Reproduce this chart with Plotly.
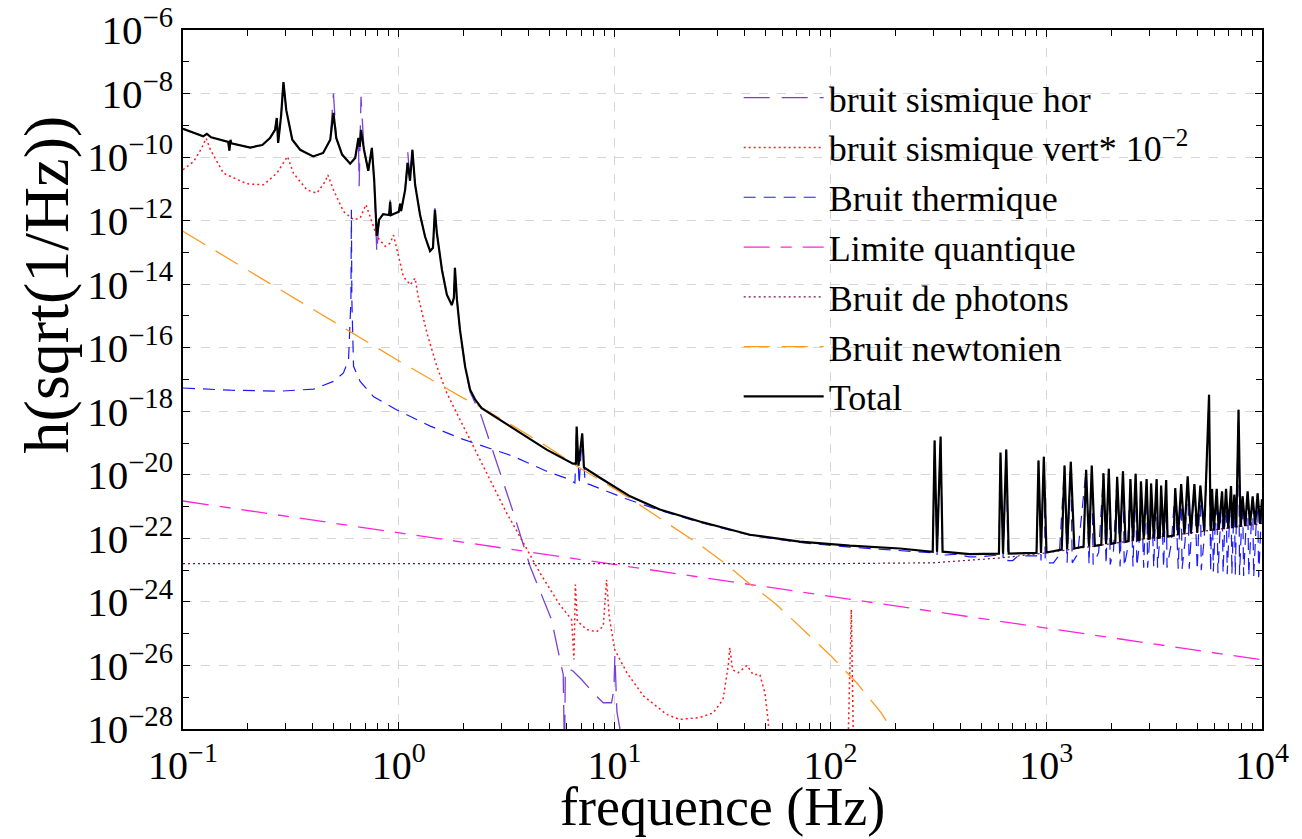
import plotly.graph_objects as go

# ---------------- data (frequency in Hz, amplitude in 1/sqrt(Hz)) ----------------
f_total = [0.1, 0.114, 0.124, 0.129, 0.135, 0.162, 0.164, 0.166, 0.1675, 0.205, 0.233, 0.253, 0.267,
           0.272, 0.276, 0.285, 0.292, 0.301, 0.321, 0.349, 0.401, 0.446, 0.481, 0.498, 0.513, 0.546,
           0.595, 0.628, 0.650, 0.659, 0.668, 0.690, 0.722, 0.750, 0.769, 0.791, 0.811, 0.846, 0.902,
           0.912, 0.921, 1.0, 1.014, 1.025, 1.07, 1.10, 1.127, 1.156, 1.19, 1.255, 1.324, 1.396, 1.44,
           1.47, 1.50, 1.585, 1.67, 1.76, 1.80, 1.82, 1.86, 1.92, 2.03, 2.14, 2.26, 2.42, 3.38, 4.84,
           6.41, 6.62, 6.67, 6.80, 7.08, 7.21, 8.55, 11.8, 16.2, 24.8, 42.4, 72.1, 123, 210, 298, 304,
           312, 324, 331, 442, 604, 614, 631, 653, 670, 902, 921, 946, 975, 1003,
           1180, 1216, 1250, 1300, 1350, 1490, 1531, 1580, 1626, 1680, 1800, 1842, 1895, 1950, 2000,
           2090, 2132, 2200, 2268, 2330, 2410, 2456, 2525, 2596, 2660, 2710, 2748, 2830, 2919, 2980,
           3020, 3062, 3150, 3248, 3300, 3360, 3408, 3500, 3597, 3650, 3900, 3961, 4090, 4222, 4370,
           4525, 4680, 4862, 5010, 5181, 5400, 5684, 5780, 5870, 5980, 6166, 6300, 6531, 6650, 6813,
           6980, 7183, 7300, 7443, 7600, 7785, 7950, 8131, 8350, 8578, 8800, 9050, 9300, 9541, 9800,
           10000]
h_total = [7.8e-10, 5.7e-10, 4.5e-10, 5.4e-10, 4.2e-10, 3.0e-10, 1.6e-10, 3.5e-10, 2.7e-10, 2.0e-10,
           2.4e-10, 4.0e-10, 7.2e-10, 1.7e-9, 2.8e-10, 2.1e-9, 2.3e-8, 3.0e-9, 3.5e-10, 1.7e-10,
           1.05e-10, 1.35e-10, 3.5e-10, 2.45e-9, 4.0e-10, 1.2e-10, 6.2e-11, 9.4e-11, 4.0e-10, 2.1e-10,
           7.2e-10, 1.7e-10, 3.7e-11, 1.95e-10, 1.9e-11, 3.3e-13, 1.07e-12, 1.6e-12, 1.5e-12, 3.9e-12,
           1.5e-12, 1.9e-12, 3.4e-12, 2.0e-12, 9.3e-12, 6.6e-11, 1.8e-11, 1.7e-10, 1.35e-11, 1.5e-12,
           3.1e-13, 1.1e-13, 1.4e-13, 2.2e-12, 4.2e-13, 2.8e-14, 4.7e-15, 2.2e-15, 3.7e-15, 3.3e-14,
           3.2e-15, 3.7e-16, 2.5e-17, 4.8e-18, 2.3e-18, 1.26e-18, 3.0e-19, 6.2e-20, 2.24e-20, 2.24e-20,
           3.3e-19, 1.95e-20, 2.0e-19, 1.7e-20, 8.1e-21, 2.1e-21, 8.1e-22, 3.4e-22, 1.3e-22, 7.9e-23,
           5.9e-23, 4.8e-23, 3.8e-23, 1.2e-19, 3.8e-23, 1.6e-19, 3.8e-23, 3.2e-23, 3.3e-23, 5.0e-20,
           3.3e-23, 6.2e-20, 3.3e-23, 3.5e-23, 2.8e-20, 3.5e-23, 3.7e-20, 3.6e-23,
           4.4e-23, 1.95e-20, 4.6e-23, 2.57e-20, 4.8e-23, 5.5e-23, 1.45e-20, 5.6e-23, 1.95e-20, 5.8e-23,
           6.3e-23, 1.12e-20, 6.5e-23, 1.55e-20, 6.7e-23, 7.2e-23, 8.7e-21, 7.5e-23, 1.29e-20, 7.8e-23,
           8.2e-23, 7.4e-21, 8.5e-23, 1.07e-20, 8.8e-23, 9.0e-23, 6.2e-21, 9.3e-23, 7.4e-21, 9.6e-23,
           9.8e-23, 5.3e-21, 1.0e-22, 7.4e-21, 1.03e-22, 1.06e-22, 4.6e-21, 1.1e-22, 6.8e-21, 1.13e-22,
           1.22e-22, 3.8e-21, 1.26e-22, 5.1e-21, 1.33e-22, 8.9e-21, 1.42e-22, 5.1e-21, 1.5e-22, 4.6e-21,
           1.65e-22, 3.3e-18, 1.7e-22, 3.6e-21, 1.75e-22, 3.6e-21, 1.85e-22, 3.0e-21, 1.95e-22, 3.6e-21,
           2.0e-22, 4.4e-21, 2.1e-22, 2.4e-21, 2.2e-22, 1.12e-18, 2.3e-22, 2.1e-21, 2.4e-22, 3.0e-21,
           2.55e-22, 2.1e-21, 2.7e-22, 2.6e-21, 2.85e-22, 1.7e-21]

f_hor = [0.1, 0.114, 0.124, 0.129, 0.135, 0.162, 0.164, 0.166, 0.1675, 0.205, 0.233, 0.253, 0.267,
         0.272, 0.276, 0.285, 0.292, 0.301, 0.321, 0.349, 0.401, 0.446, 0.481, 0.498, 0.513, 0.546,
         0.595, 0.628, 0.650, 0.655, 0.668, 0.690, 0.722, 0.750, 0.769, 0.791, 0.811, 0.846, 0.902,
         0.912, 0.921, 1.0, 1.014, 1.025, 1.07, 1.10, 1.127, 1.156, 1.19, 1.255, 1.324, 1.396, 1.44,
         1.47, 1.50, 1.585, 1.67, 1.76, 1.80, 1.82, 1.86, 1.92, 2.03, 2.14, 2.26, 2.33, 2.65, 3.40,
         4.06, 4.67, 5.10, 5.58, 5.78, 5.86, 5.91, 6.08, 6.43, 7.03, 8.10, 8.86, 9.68, 9.93, 10.03,
         10.16, 10.25, 10.8]
h_hor = [7.8e-10, 5.7e-10, 4.5e-10, 5.4e-10, 4.2e-10, 3.0e-10, 1.6e-10, 3.5e-10, 2.7e-10, 2.0e-10,
         2.4e-10, 4.0e-10, 7.2e-10, 1.7e-9, 2.8e-10, 2.1e-9, 2.7e-8, 3.0e-9, 3.5e-10, 1.7e-10,
         1.05e-10, 1.35e-10, 3.5e-10, 1.0e-8, 4.0e-10, 1.2e-10, 6.2e-11, 9.4e-11, 4.0e-10, 1.2e-11,
         7.9e-9, 1.7e-10, 3.7e-11, 1.95e-10, 1.9e-11, 9.8e-14, 1.07e-12, 1.6e-12, 1.5e-12, 4.5e-12,
         1.5e-12, 1.9e-12, 3.4e-12, 2.0e-12, 9.3e-12, 1.5e-10, 1.8e-11, 1.7e-10, 1.35e-11, 1.5e-12,
         3.1e-13, 1.1e-13, 1.4e-13, 2.5e-12, 4.2e-13, 2.8e-14, 4.7e-15, 2.2e-15, 3.7e-15, 3.3e-14,
         3.2e-15, 3.7e-16, 2.5e-17, 4.0e-18, 1.8e-18, 1.4e-18, 1.0e-19, 6.3e-22, 1.3e-23, 1.2e-24,
         2.8e-25, 1.55e-26, 5.2e-27, 1e-29, 6.0e-27, 8.1e-27, 6.6e-27, 3.6e-27, 1.2e-27, 6.7e-28,
         6.7e-28, 1.8e-27, 2.2e-26, 1.8e-27, 3.5e-28, 4.7e-29]

f_vert = [0.1, 0.112, 0.122, 0.128, 0.134, 0.154, 0.198, 0.236, 0.272, 0.298, 0.305, 0.325, 0.375,
          0.417, 0.456, 0.469, 0.498, 0.554, 0.617, 0.662, 0.704, 0.736, 0.791, 0.865, 0.912, 0.945,
          1.0, 1.05, 1.13, 1.19, 1.23, 1.32, 1.35, 1.50, 1.67, 1.92, 2.21, 2.65, 3.16, 3.78, 4.51,
          5.58, 6.32, 6.48, 6.58, 6.72, 7.42, 8.26, 8.86, 9.18, 9.44, 10.0, 11.4, 13.6, 17.4, 20.0,
          24.8, 28.6, 31.8, 33.6, 34.2, 35.2, 37.3, 41.1, 43.8, 47.1, 49.7, 51.4, 53.1, 120.2, 125,
          128.2]
h_vert = [4.0e-11, 7.2e-11, 1.9e-10, 3.9e-10, 1.7e-10, 3.1e-11, 1.44e-11, 1.34e-11, 3.1e-11, 8.1e-11,
          1.05e-10, 3.1e-11, 9.3e-12, 7.3e-12, 1.7e-11, 2.75e-11, 9.3e-12, 1.95e-12, 1.07e-12, 1.2e-12,
          3.2e-12, 1.35e-12, 3.2e-13, 1.55e-13, 1.95e-13, 3.5e-13, 7.4e-14, 1.74e-14, 9.5e-15, 1.55e-14,
          4.1e-15, 4.7e-16, 2.9e-16, 2.6e-17, 3.7e-18, 5.5e-19, 7.9e-20, 7.1e-21, 6.3e-22, 7.2e-23,
          8.1e-24, 8.0e-25, 2.8e-25, 1.55e-26, 3.5e-24, 2.5e-25, 1.35e-25, 1.15e-25, 1.7e-25, 5.0e-24,
          3.5e-25, 3.2e-26, 5.9e-27, 1.1e-27, 2.9e-28, 2.0e-28, 2.3e-28, 3.2e-28, 8.5e-28, 9.6e-27,
          3.6e-26, 7.4e-27, 5.9e-27, 1.0e-26, 5.2e-27, 5.2e-27, 1.4e-27, 2.0e-28, 1e-29, 1e-29,
          5.7e-25, 1e-29]

f_therm = [0.1, 0.166, 0.282, 0.403, 0.498, 0.554, 0.585, 0.600, 0.603, 0.606, 0.617, 0.662, 0.762,
           0.98, 1.40, 1.99, 3.40, 4.84, 6.10, 6.55, 6.67, 6.85, 7.08, 7.3, 7.69, 11.2, 16.2, 24.8,
           42.4, 72.1, 123, 210, 298, 304, 312, 324, 331, 345, 380, 440, 480, 604, 614, 631, 653, 665,
           700, 740, 902, 921, 946, 975, 990, 1080, 1150, 1216, 1250, 1300, 1320, 1400, 1531, 1580,
           1626, 1650, 1750, 1842, 1895, 1950, 1980, 2050, 2132, 2200, 2268, 2300, 2380, 2456, 2525,
           2596, 2630, 2690, 2748, 2830, 2919, 2950, 3000, 3062, 3150, 3248, 3280, 3340, 3408, 3500,
           3597, 3630, 3800, 3961, 4090, 4222, 4260, 4400, 4525, 4600, 4700, 4862, 5010, 5181, 5230,
           5400, 5684, 5780, 5870, 5950, 6166, 6250, 6531, 6600, 6813, 6900, 7183, 7250, 7443, 7520,
           7785, 7870, 8131, 8220, 8578, 8680, 9050, 9150, 9541, 9650, 10000]
h_therm = [5.4e-18, 4.6e-18, 4.3e-18, 5.0e-18, 8.7e-18, 1.6e-17, 4.2e-17, 3.2e-15, 2.2e-12, 3.2e-15,
           2.6e-17, 8.7e-18, 2.9e-18, 1.1e-18, 3.4e-19, 1.3e-19, 3.8e-20, 1.3e-20, 7.4e-21, 5.5e-21,
           3.3e-19, 5.0e-21, 2.0e-19, 5.5e-21, 4.9e-21, 1.8e-21, 7.6e-22, 3.2e-22, 1.26e-22, 7.4e-23,
           5.3e-23, 4.1e-23, 3.5e-23, 1.2e-19, 3.0e-23, 1.6e-19, 3.0e-23, 3.0e-23, 3.2e-23, 2.6e-23,
           2.6e-23, 3.0e-23, 5.0e-20, 2.5e-23, 6.2e-20, 2.0e-23, 2.0e-23, 2.8e-23, 2.8e-23, 2.8e-20,
           2.0e-23, 3.7e-20, 1.7e-23, 1.7e-23, 3.0e-23, 1.95e-20, 1.7e-23, 2.57e-20, 1.7e-23, 3.2e-23,
           1.45e-20, 1.5e-23, 1.95e-20, 1.5e-23, 3.6e-23, 1.12e-20, 1.5e-23, 1.55e-20, 1.5e-23, 4.0e-23,
           8.7e-21, 1.3e-23, 1.29e-20, 1.3e-23, 4.5e-23, 7.4e-21, 1.3e-23, 1.07e-20, 1.3e-23, 5.0e-23,
           6.2e-21, 1.2e-23, 7.4e-21, 1.2e-23, 5.5e-23, 5.3e-21, 1.2e-23, 7.4e-21, 1.2e-23, 6.0e-23,
           4.6e-21, 1.2e-23, 6.8e-21, 1.2e-23, 7.0e-23, 3.8e-21, 1.1e-23, 5.1e-21, 1.1e-23, 8.0e-23,
           8.9e-21, 1.1e-23, 9.0e-23, 5.1e-21, 1.0e-23, 4.6e-21, 1.0e-23, 1.0e-22, 3.3e-18, 9.0e-24,
           3.6e-21, 9.0e-24, 3.6e-21, 8.0e-24, 3.0e-21, 8.0e-24, 3.6e-21, 7.5e-24, 4.4e-21, 7.5e-24,
           2.4e-21, 7.0e-24, 1.12e-18, 7.0e-24, 2.1e-21, 6.5e-24, 3.0e-21, 6.5e-24, 2.1e-21, 6.0e-24,
           2.6e-21, 6.0e-24, 1.7e-21]

f_quant = [0.1, 10000]
h_quant = [1.5e-21, 1.5e-26]

f_photon = [0.1, 100, 300, 604, 1000, 1800, 3000, 5100, 10000]
h_photon = [1.6e-23, 1.6e-23, 1.7e-23, 2.4e-23, 3.5e-23, 6.2e-23, 1.0e-22, 1.6e-22, 2.95e-22]

f_newton = [0.1, 0.337, 0.498, 0.98, 1.99, 2.33, 3.40, 4.84, 6.67, 11.4, 16.2, 24.8, 33.0, 40.8,
            56.2, 74.7, 101, 132, 172, 199]
h_newton = [4.6e-13, 3.2e-15, 6.8e-16, 4.2e-17, 2.6e-18, 1.5e-18, 3.4e-19, 7.9e-20, 1.9e-20, 2.1e-21,
            4.3e-22, 6.3e-23, 1.5e-23, 4.5e-24, 8.3e-25, 1.35e-25, 1.95e-26, 2.9e-27, 3.2e-28, 6.8e-29]

x_tick_vals = [0.1, 1, 10, 100, 1000, 10000]
x_tick_text = ["10<sup>−1</sup>", "10<sup>0</sup>", "10<sup>1</sup>", "10<sup>2</sup>",
               "10<sup>3</sup>", "10<sup>4</sup>"]
y_exponents = [-28, -26, -24, -22, -20, -18, -16, -14, -12, -10, -8, -6]
y_tick_vals = [10.0 ** e for e in y_exponents]
y_tick_text = ["10<sup>−%d</sup>" % (-e) for e in y_exponents]
y_minor_vals = [10.0 ** e for e in range(-27, -6, 2)]
x_minor_vals = [m * 10.0 ** d for d in range(-1, 4) for m in range(2, 10)]

x_title = "frequence (Hz)"
y_title = "h(sqrt(1/Hz))"

# ---------------- figure ----------------
FONT = "Liberation Serif, Times New Roman, serif"
series = [
    ("bruit sismique hor", f_hor, h_hor, "#7b3fd6", "26px,12px", 1.3),
    ("bruit sismique vert* 10<sup>−2</sup>", f_vert, h_vert, "#ff1a1a", "2px,3px", 1.5),
    ("Bruit thermique", f_therm, h_therm, "#1a1aff", "12px,8px", 1.2),
    ("Limite quantique", f_quant, h_quant, "#ff22dd", "26px,11px,11px,11px", 1.3),
    ("Bruit de photons", f_photon, h_photon, "#7a0a55", "2px,3px", 1.2),
    ("Bruit newtonien", f_newton, h_newton, "#ff9a1f", "26px,12px", 1.3),
]

fig = go.Figure()
for name, fx, hy, col, dash, w in series:
    fig.add_trace(go.Scatter(x=fx, y=hy, mode="lines", name=name,
                             line=dict(color=col, width=w, dash=dash)))
fig.add_trace(go.Scatter(x=f_total, y=h_total, mode="lines", name="Total",
                         line=dict(color="black", width=2.2)))

axis_common = dict(
    type="log", showline=True, linecolor="black", linewidth=1.5, mirror="allticks",
    ticks="inside", ticklen=7, tickcolor="black", automargin=False, ticklabeloverflow="allow",
    showgrid=True, gridcolor="#d6d6d6", griddash="dash", gridwidth=1,
    zeroline=False, tickmode="array",
)

fig.update_xaxes(
    **axis_common, range=[-1, 4], tickvals=x_tick_vals, ticktext=x_tick_text,
    tickfont=dict(family=FONT, size=40, color="black"),
    minor=dict(tickvals=x_minor_vals, ticks="inside", ticklen=6, tickcolor="black", showgrid=False),
)
fig.update_yaxes(
    **axis_common, range=[-28, -6], tickvals=y_tick_vals, ticktext=y_tick_text,
    tickfont=dict(family=FONT, size=41, color="black"),
    minor=dict(tickvals=y_minor_vals, ticks="inside", ticklen=6, tickcolor="black", showgrid=False),
)

fig.add_annotation(text=x_title, xref="paper", yref="paper", x=0.5, y=-0.112,
                   xanchor="center", yanchor="middle", showarrow=False,
                   font=dict(family=FONT, size=54, color="black"))
fig.add_annotation(text=y_title, xref="paper", yref="paper", x=-0.127, y=0.636,
                   xanchor="center", yanchor="middle", showarrow=False, textangle=-90,
                   font=dict(family=FONT, size=64, color="black"))

fig.update_layout(
    width=1294, height=831,
    margin=dict(l=175, r=40, t=22, b=110, autoexpand=False),
    plot_bgcolor="white", paper_bgcolor="white",
    font=dict(family=FONT, color="black"),
    legend=dict(x=0.515, y=0.946, xanchor="left", yanchor="top", bgcolor="rgba(0,0,0,0)",
                font=dict(family=FONT, size=36, color="black"), tracegroupgap=0,
                itemwidth=80),
    showlegend=True,
)

fig.write_html("out.html")
